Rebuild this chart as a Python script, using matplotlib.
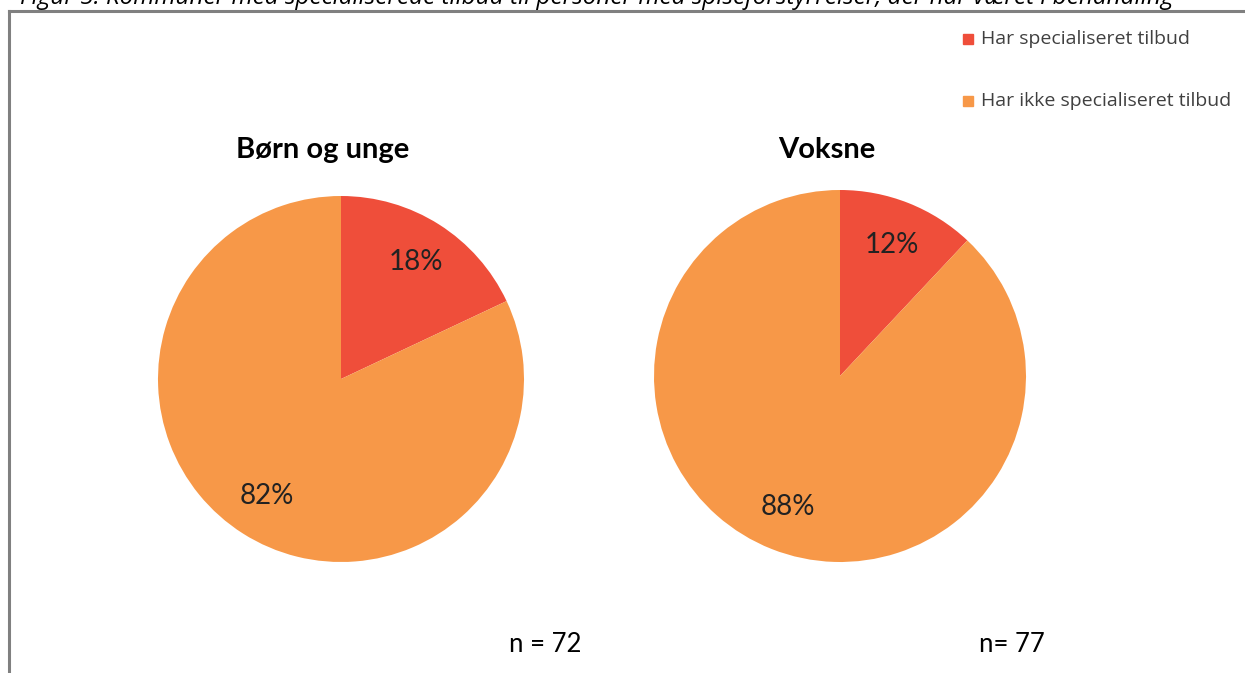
import matplotlib.pyplot as plt
from matplotlib.patches import Rectangle
from matplotlib.lines import Line2D

# ---------- Data ----------
groups = ["Børn og unge", "Voksne"]
counts = ["n = 72", "n= 77"]
categories = ["Har specialiseret tilbud", "Har ikke specialiseret tilbud"]
shares_children = [18, 82]
shares_adults = [12, 88]
caption = ("Figur 5: Kommuner med specialiserede tilbud til personer med "
           "spiseforstyrrelser, der har været i behandling")

colors = ["#EF4E3A", "#F79848"]

W, H = 1245, 673
fig = plt.figure(figsize=(W / 100, H / 100), dpi=100)


def px_axes(cx, cy, r):
    # axes box in pixel coordinates (origin top left)
    return fig.add_axes([(cx - r) / W, 1 - (cy + r) / H, 2 * r / W, 2 * r / H])


# ---------- Frame + caption ----------
fig.add_artist(Line2D([9 / W, 9 / W], [0, 1 - 11 / H], color="#808080", lw=2.2))
fig.add_artist(Line2D([9 / W, 1], [1 - 11 / H, 1 - 11 / H], color="#808080", lw=2.2))
fig.text(20 / W, 1 - 4 / H, caption, fontsize=17.5, style="italic",
         family="Open Sans", va="baseline", ha="left")

# ---------- Pies ----------
pies = [
    (shares_children, 341, 379, 183, 323, 545),
    (shares_adults, 840, 376, 186, 827, 1012),
]
for i, (vals, cx, cy, r, tx, nx) in enumerate(pies):
    ax = px_axes(cx, cy, r)
    ax.pie(vals, colors=colors, startangle=90, counterclock=False,
           autopct="%d%%", pctdistance=0.76,
           textprops=dict(fontsize=20, family="Lato", color="#222222"),
           wedgeprops=dict(linewidth=0))
    ax.set_xlim(-1, 1)
    ax.set_ylim(-1, 1)
    ax.set_aspect("equal")
    ax.axis("off")
    fig.text(tx / W, 1 - 150 / H, groups[i], fontsize=21, fontweight="bold",
             family="Lato", ha="center", va="center")
    fig.text(nx / W, 1 - 645 / H, counts[i], fontsize=18.5, family="Lato",
             ha="center", va="center")

# ---------- Legend ----------
for j, cat in enumerate(categories):
    y = 39 + j * 62
    fig.add_artist(Rectangle(((968 - 5) / W, 1 - (y + 5) / H), 10 / W, 10 / H,
                             color=colors[j], transform=fig.transFigure))
    fig.text(981 / W, 1 - y / H, cat, fontsize=14, family="Open Sans",
             color="#404040", ha="left", va="center")

fig.savefig("out.png", dpi=100)
